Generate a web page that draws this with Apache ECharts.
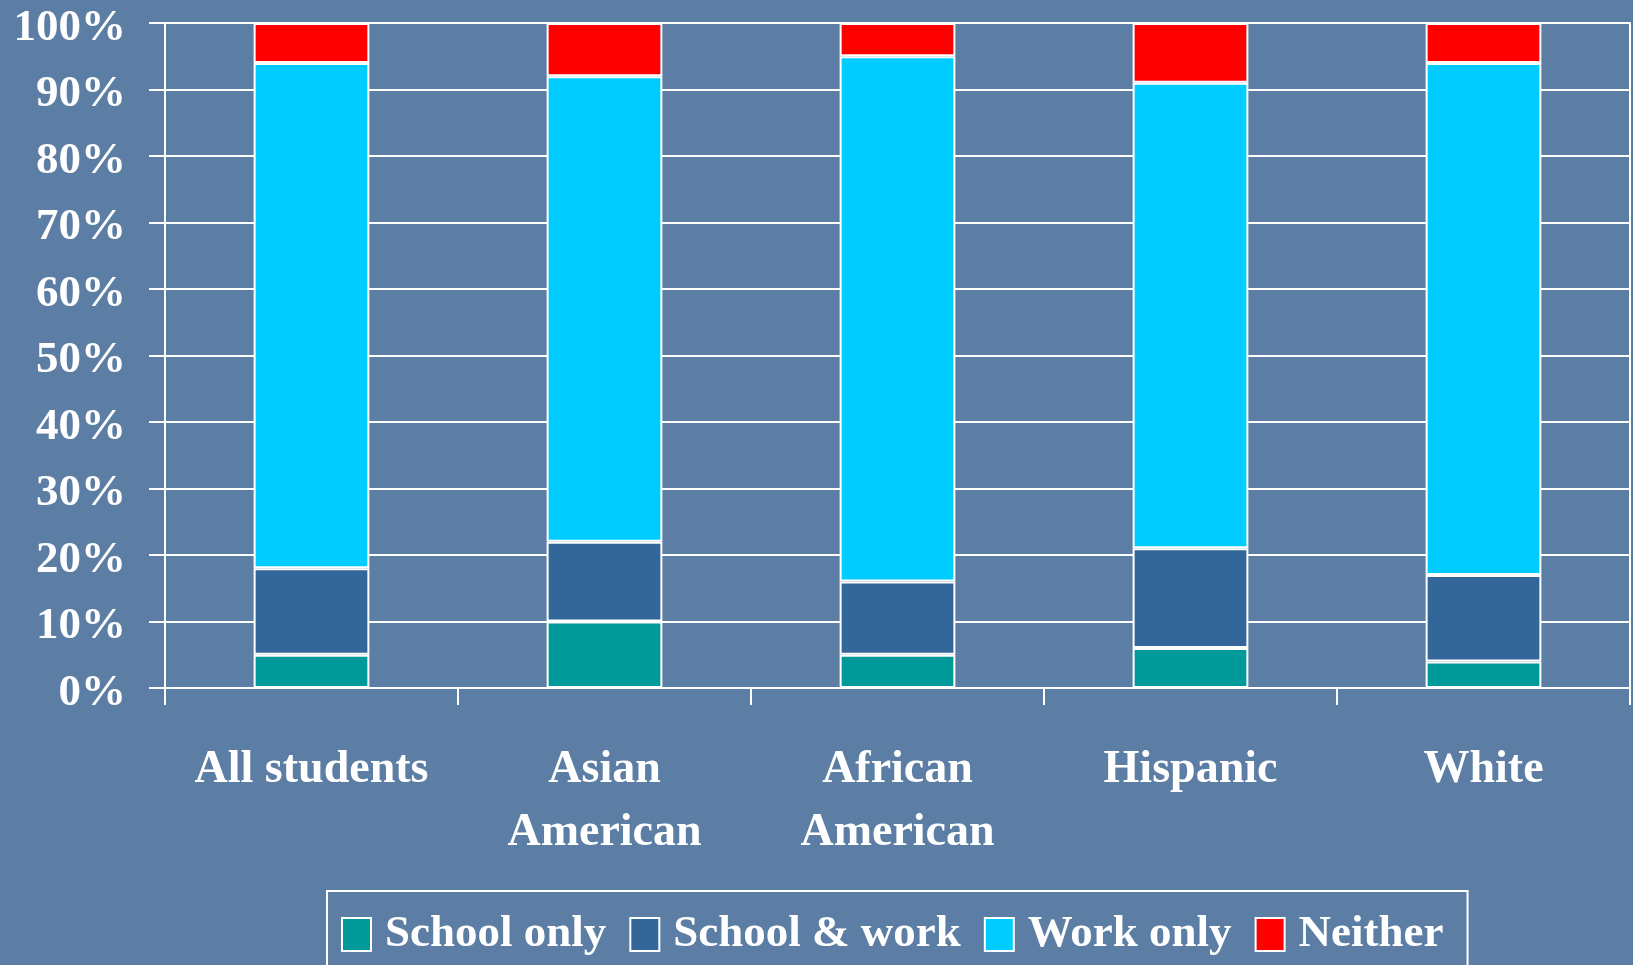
<!DOCTYPE html>
<html>
<head>
<meta charset="utf-8">
<script src="https://cdn.jsdelivr.net/npm/echarts@6/dist/echarts.min.js"></script>
<style>
html,body{margin:0;padding:0;background:#5d7ea4;}
#chart{width:1633px;height:965px;}
</style>
</head>
<body>
<div id="chart"></div>
<script>
const categories = ['All students', 'Asian\nAmerican', 'African\nAmerican', 'Hispanic', 'White'];
const schoolOnly = [5, 10, 5, 6, 4];
const schoolWork = [13, 12, 11, 15, 13];
const workOnly = [76, 70, 79, 70, 77];
const neither = [6, 8, 5, 9, 6];
const seriesNames = ['School only', 'School & work', 'Work only', 'Neither'];
const seriesColors = ['#009999', '#336699', '#00ccff', '#ff0000'];

const FONT = "'Liberation Serif', 'Times New Roman', serif";
const chart = echarts.init(document.getElementById('chart'));
const mk = (name, data, i) => ({
  name: name,
  type: 'bar',
  stack: 'total',
  data: data,
  barWidth: '39.5%',
  itemStyle: { color: seriesColors[i], borderColor: '#ffffff', borderWidth: 2 }
});
chart.setOption({
  backgroundColor: '#5d7ea4',
  animation: false,
  grid: { left: 165, right: 3, top: 23, bottom: 277, containLabel: false },
  legend: {
    left: 327, top: 891,
    orient: 'horizontal',
    padding: [21, 24, 14, 14],
    borderColor: '#ffffff', borderWidth: 2,
    itemWidth: 29, itemHeight: 33, itemGap: 23,
    icon: 'rect',
    itemStyle: { borderColor: '#ffffff', borderWidth: 2 },
    textStyle: { color: '#ffffff', fontFamily: FONT, fontWeight: 'bold', fontSize: 45, padding: [0, 0, 0, 9] },
    data: seriesNames
  },
  xAxis: {
    type: 'category',
    data: categories,
    axisLine: { show: true, lineStyle: { color: '#ffffff', width: 2 } },
    axisTick: { show: true, length: 17, lineStyle: { color: '#ffffff', width: 2 } },
    axisLabel: { color: '#ffffff', fontFamily: FONT, fontWeight: 'bold', fontSize: 46, lineHeight: 63, margin: 51, interval: 0 }
  },
  yAxis: [{
    type: 'value', min: 0, max: 100, interval: 10,
    axisLine: { show: true, lineStyle: { color: '#ffffff', width: 2 } },
    axisTick: { show: true, length: 16, lineStyle: { color: '#ffffff', width: 2 } },
    splitLine: { show: true, lineStyle: { color: '#ffffff', width: 2 } },
    axisLabel: {
      color: '#ffffff', fontFamily: FONT, fontWeight: 'bold', fontSize: 45, margin: 39,
      formatter: '{a|{value}%}',
      rich: { a: { color: '#ffffff', fontFamily: FONT, fontWeight: 'bold', fontSize: 45, padding: [10, 0, 0, 0] } }
    }
  }, {
    type: 'value', min: 0, max: 100, interval: 10, position: 'right',
    axisLine: { show: true, lineStyle: { color: '#ffffff', width: 2 } },
    axisTick: { show: false }, axisLabel: { show: false }, splitLine: { show: false }
  }],
  series: [
    mk(seriesNames[0], schoolOnly, 0),
    mk(seriesNames[1], schoolWork, 1),
    mk(seriesNames[2], workOnly, 2),
    mk(seriesNames[3], neither, 3)
  ]
});
</script>
</body>
</html>
